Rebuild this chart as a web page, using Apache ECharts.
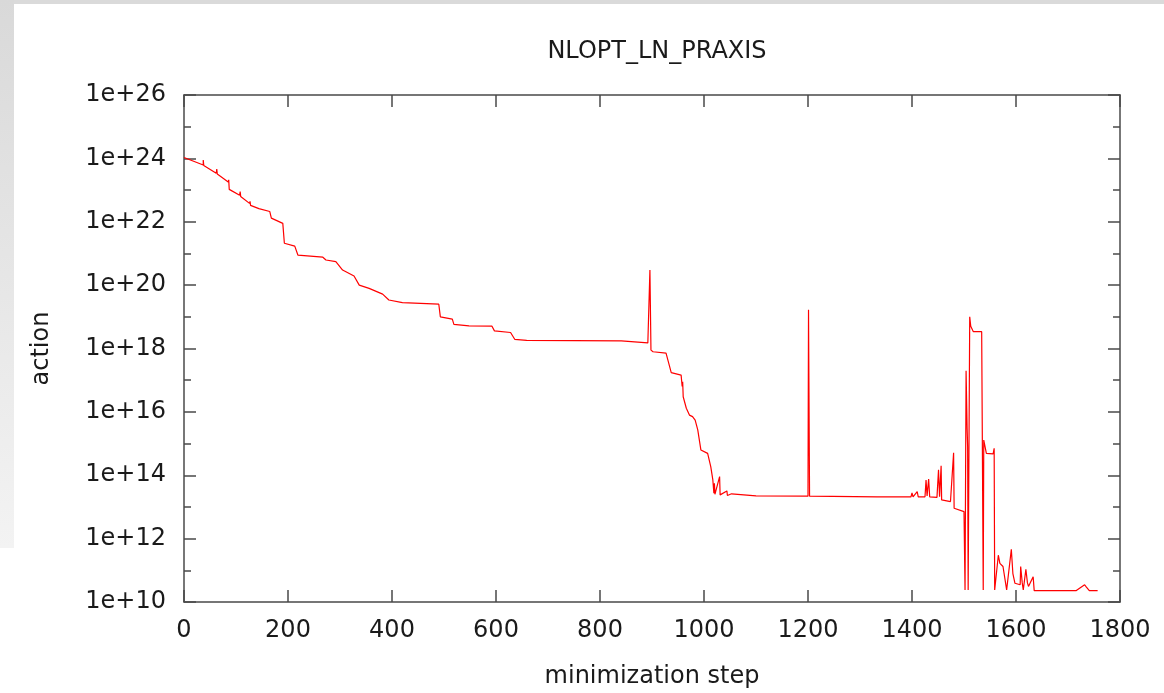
<!DOCTYPE html>
<html>
<head>
<meta charset="utf-8">
<script src="https://cdn.jsdelivr.net/npm/echarts@6/dist/echarts.min.js"></script>
<style>
  html, body { margin: 0; padding: 0; background: #ffffff; }
  #topbar { position: absolute; left: 0; top: 0; width: 1164px; height: 4px; background: #dadada; }
  #leftbar { position: absolute; left: 0; top: 0; width: 14px; height: 548px; background: linear-gradient(#d9d9d9, #f3f3f3); }
  #chart { position: absolute; left: 0; top: 0; width: 1164px; height: 693px; }
</style>
</head>
<body>
<div id="topbar"></div>
<div id="leftbar"></div>
<div id="chart"></div>
<script>
// ---- data ----
const titleText = 'NLOPT_LN_PRAXIS';
const xName = 'minimization step';
const yName = 'action';
const yTickExponents = [10, 12, 14, 16, 18, 20, 22, 24, 26];
const xTicks = [0, 200, 400, 600, 800, 1000, 1200, 1400, 1600, 1800];

const steps = [
  0, 37, 37, 38, 62, 63, 64, 85, 86, 87, 107, 108, 109, 126, 127, 128, 144, 165, 168, 190,
  193, 193, 213, 219, 267, 273, 292, 305, 327, 337, 356, 382, 394, 420, 490, 493, 516, 519, 548, 592,
  597, 628, 636, 659, 661, 662, 841, 892, 894, 896, 898, 902, 927, 937, 956, 958, 959, 960, 966, 972,
  978, 983, 988, 994, 1007, 1013, 1017, 1019, 1020, 1021, 1023, 1030, 1031, 1044, 1045, 1053, 1054, 1100, 1200, 1201,
  1203, 1333, 1398, 1400, 1402, 1410, 1412, 1425, 1427, 1429, 1432, 1434, 1448, 1451, 1453, 1456, 1457, 1474, 1480, 1481,
  1500, 1502, 1504, 1506, 1507, 1508, 1511, 1513, 1518, 1534, 1537, 1538, 1543, 1556, 1558, 1559, 1566, 1569, 1575, 1582,
  1591, 1594, 1598, 1608, 1609, 1612, 1614, 1619, 1622, 1624, 1633, 1635, 1716, 1732, 1735, 1738, 1741, 1757
];
const action = [
  1.07e24, 6.2e23, 8.9e23, 6.0e23, 3.4e23, 4.6e23, 3.2e23, 1.8e23, 2.1e23, 1.05e23, 6.9e22, 8.9e22, 6.3e22, 3.8e22, 4.4e22, 3.3e22, 2.6e22, 2.1e22, 1.3e22, 8.9e21,
  7.9e21, 2.1e21, 1.7e21, 8.9e20, 7.6e20, 6.2e20, 5.5e20, 3.0e20, 1.95e20, 1.0e20, 7.9e19, 5.2e19, 3.4e19, 2.8e19, 2.5e19, 1.0e19, 8.5e18, 5.8e18, 5.2e18, 5.1e18,
  3.6e18, 3.2e18, 1.95e18, 1.8e18, 1.95e18, 1.74e18, 1.74e18, 1.5e18, 1.3e18, 3.0e20, 8.9e17, 7.9e17, 7.1e17, 1.74e17, 1.45e17, 6.3e16, 8.9e16, 3.0e16, 1.3e16, 7.9e15,
  7.1e15, 5.5e15, 2.7e15, 6.3e14, 4.9e14, 1.86e14, 7.1e13, 2.7e13, 5.6e13, 2.5e13, 2.4e13, 9.1e13, 2.4e13, 3.2e13, 2.3e13, 2.6e13, 2.3e13, 2.24e13, 2.19e13, 1.66e19,
  2.19e13, 2.09e13, 2.09e13, 2.75e13, 2.09e13, 3.02e13, 2.09e13, 2.09e13, 7.1e13, 2.24e13, 7.6e13, 2.09e13, 2.0e13, 1.48e14, 2.09e13, 2.0e14, 1.66e13, 1.48e13, 5.1e14, 9.1e12,
  7.1e12, 2.4e10, 2.0e17, 3.0e15, 7.9e14, 2.4e10, 1.0e19, 5.0e18, 3.4e18, 3.4e18, 2.4e10, 1.29e15, 4.9e14, 4.7e14, 7.1e14, 2.4e10, 3.0e11, 1.66e11, 1.32e11, 2.4e10,
  4.6e11, 7.9e10, 3.9e10, 3.5e10, 1.32e11, 4.0e10, 2.4e10, 1.07e11, 4.0e10, 3.1e10, 6.3e10, 2.29e10, 2.29e10, 3.5e10, 3.0e10, 2.7e10, 2.29e10, 2.29e10
];

// ---- chart ----
const FONT = 'DejaVu Sans';
const TXT = '#1a1a1a';
const AX = '#4a4a4a';
const seriesData = steps.map((s, i) => [s, Math.log10(action[i])]);
const axisLine = { show: true, onZero: false, lineStyle: { color: AX, width: 1.5 } };
const tickIn = { show: true, inside: true, length: 12, lineStyle: { color: AX, width: 1.5 } };
const minorIn = { show: true, splitNumber: 2, length: 7, lineStyle: { color: AX, width: 1.5 } };
const xBase = { type: 'value', min: xTicks[0], max: xTicks[xTicks.length - 1], interval: 200, splitLine: { show: false } };
const yBase = { type: 'value', min: yTickExponents[0], max: yTickExponents[yTickExponents.length - 1], interval: 2, splitLine: { show: false } };

const chart = echarts.init(document.getElementById('chart'), null, { renderer: 'canvas' });
chart.setOption({
  backgroundColor: 'transparent',
  animation: false,
  title: {
    text: titleText,
    left: 652,
    top: 35,
    textAlign: 'center',
    textStyle: { fontFamily: FONT, fontSize: 24, fontWeight: 'normal', color: TXT }
  },
  grid: { left: 184, right: 44, top: 95, bottom: 91, containLabel: false, outerBoundsMode: 'none' },
  xAxis: [
    Object.assign({}, xBase, {
      position: 'bottom',
      name: xName, nameLocation: 'middle', nameGap: 63,
      nameTextStyle: { fontFamily: FONT, fontSize: 24, color: TXT },
      axisLine: axisLine, axisTick: tickIn,
      axisLabel: { fontFamily: FONT, fontSize: 24, color: TXT, margin: 17, formatter: v => String(v) }
    }),
    Object.assign({}, xBase, {
      position: 'top',
      axisLine: axisLine, axisTick: tickIn, axisLabel: { show: false }
    })
  ],
  yAxis: [
    Object.assign({}, yBase, {
      position: 'left',
      name: yName, nameLocation: 'middle', nameGap: 130, nameRotate: 90,
      nameTextStyle: { fontFamily: FONT, fontSize: 24, color: TXT },
      axisLine: axisLine, axisTick: tickIn, minorTick: minorIn,
      axisLabel: { fontFamily: FONT, fontSize: 24, color: TXT, margin: 18, formatter: v => '1e+' + v }
    }),
    Object.assign({}, yBase, {
      position: 'right',
      axisLine: axisLine, axisTick: tickIn, minorTick: minorIn, axisLabel: { show: false }
    })
  ],
  series: [{
    type: 'line',
    xAxisIndex: 0, yAxisIndex: 0,
    data: seriesData,
    showSymbol: false,
    symbol: 'none',
    lineStyle: { color: '#ff0000', width: 1.2 },
    clip: true
  }]
});
</script>
</body>
</html>
